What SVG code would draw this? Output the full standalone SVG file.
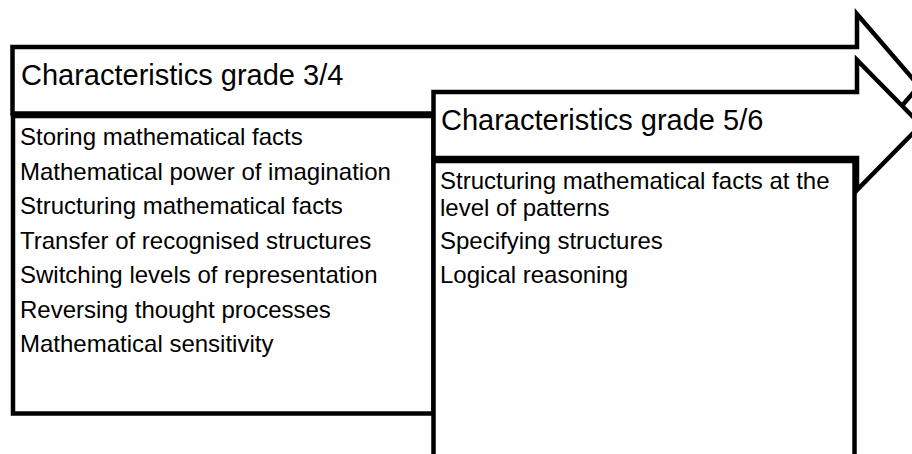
<svg xmlns="http://www.w3.org/2000/svg" width="912" height="454" viewBox="0 0 912 454">
  <style>
    .shape { fill: #ffffff; stroke: #000000; stroke-width: 4.5; stroke-linejoin: miter; }
    .head { font-family: "Liberation Sans", Arial, sans-serif; font-size: 29px; fill: #000000; }
    .item { font-family: "Liberation Sans", Arial, sans-serif; font-size: 24px; fill: #000000; }
  </style>
  <rect width="912" height="454" fill="#ffffff"/>

  <!-- Stage 1: grade 3/4 arrow with its list -->
  <g id="stage-grade-3-4-arrow">
    <path class="shape" d="M12.5,47 H857 V14 L919,86 L857,158 V113.5 H12.5 Z"/>
    <text class="head" x="21" y="84.5">Characteristics grade 3/4</text>
  </g>
  <g id="stage-grade-3-4-list">
    <rect class="shape" x="13" y="116" width="420.5" height="297.5"/>
    <text class="item" x="20" y="145">Storing mathematical facts</text>
    <text class="item" x="20" y="179.5">Mathematical power of imagination</text>
    <text class="item" x="20" y="214">Structuring mathematical facts</text>
    <text class="item" x="20" y="248.5">Transfer of recognised structures</text>
    <text class="item" x="20" y="283">Switching levels of representation</text>
    <text class="item" x="20" y="317.5">Reversing thought processes</text>
    <text class="item" x="20" y="352">Mathematical sensitivity</text>
  </g>

  <!-- Stage 2: grade 5/6 arrow with its list -->
  <g id="stage-grade-5-6-arrow">
    <path class="shape" d="M433.5,92 H857 V60 L921,125 L857,190 V158 H433.5 Z"/>
    <text class="head" x="441" y="130">Characteristics grade 5/6</text>
  </g>
  <g id="stage-grade-5-6-list">
    <rect class="shape" x="433.5" y="161" width="421" height="320"/>
    <text class="item" x="440" y="188.5">Structuring mathematical facts at the</text>
    <text class="item" x="440" y="215.5">level of patterns</text>
    <text class="item" x="440" y="248.5">Specifying structures</text>
    <text class="item" x="440" y="282.5">Logical reasoning</text>
  </g>

  <g id="connectors"></g>
</svg>
